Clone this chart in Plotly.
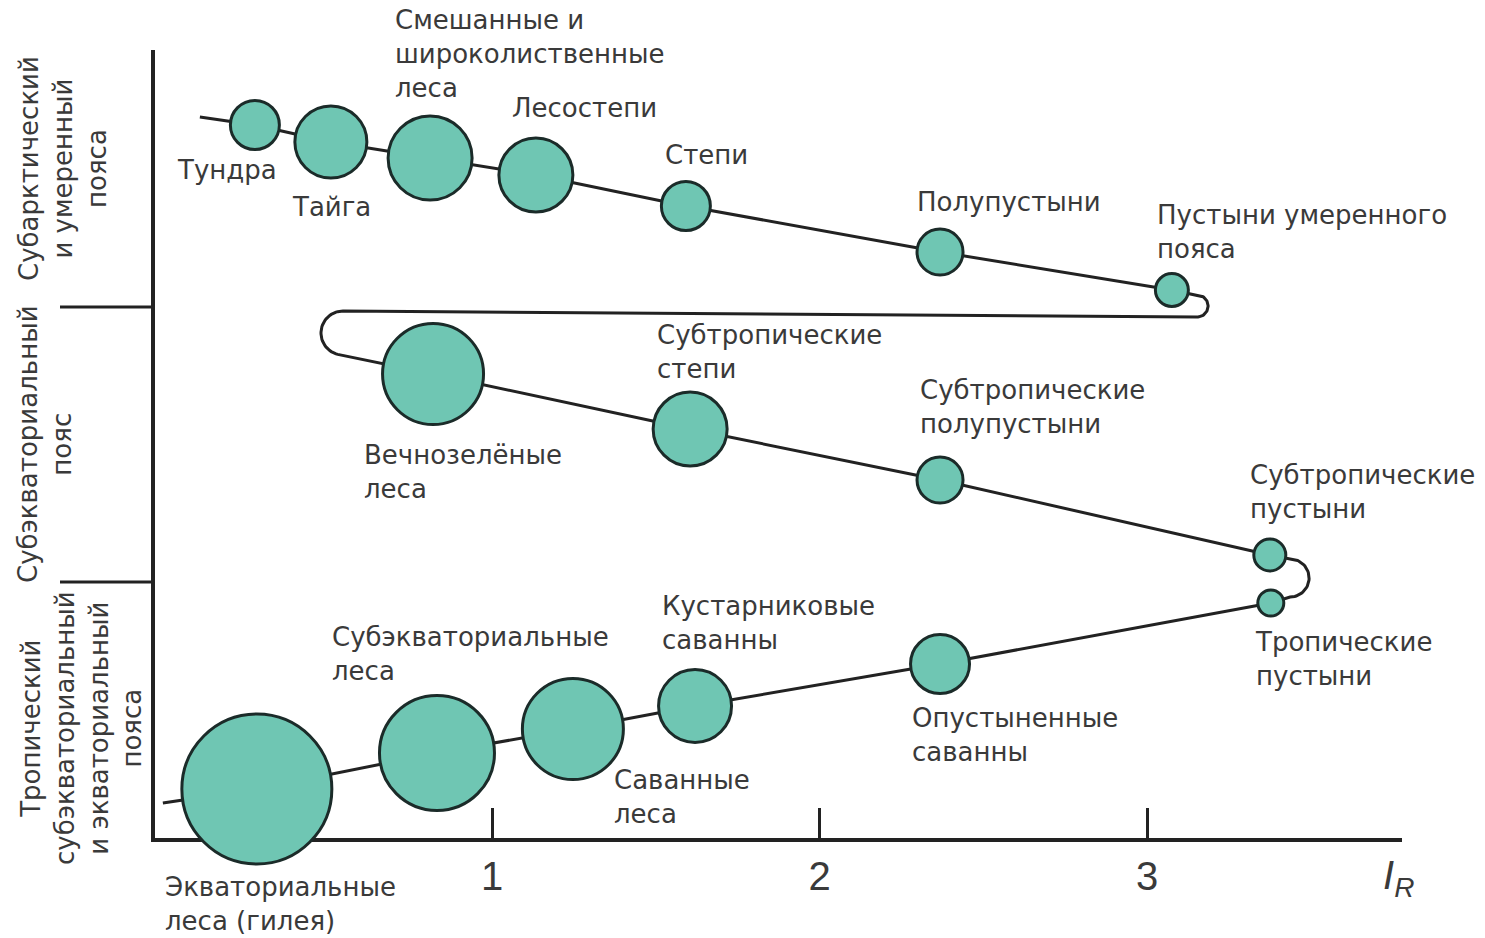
import numpy as np
import plotly.graph_objects as go

# ---------------- data ----------------
biomes = [
    "Тундра", "Тайга", "Смешанные и<br>широколиственные<br>леса", "Лесостепи", "Степи",
    "Полупустыни", "Пустыни умеренного<br>пояса",
    "Вечнозелёные<br>леса", "Субтропические<br>степи", "Субтропические<br>полупустыни",
    "Субтропические<br>пустыни",
    "Тропические<br>пустыни", "Опустыненные<br>саванны", "Кустарниковые<br>саванны",
    "Саванные<br>леса", "Субэкваториальные<br>леса", "Экваториальные<br>леса (гилея)",
]
# radiation index of dryness I_R
ir_values = [0.276, 0.508, 0.811, 1.134, 1.592, 2.368, 3.076,
             0.820, 1.605, 2.368, 3.375,
             3.378, 2.368, 1.620, 1.247, 0.832, 0.282]
# vertical position within belt (arbitrary units)
belt_pos = [7.13, 6.96, 6.80, 6.63, 6.32, 5.86, 5.48,
            4.64, 4.09, 3.58, 2.83,
            2.35, 1.74, 1.32, 1.09, 0.85, 0.49]
# relative productivity (circle diameter)
productivity = [52, 75, 87, 77, 52, 49, 36,
                104, 77, 49, 35,
                29, 62, 76, 104, 118, 153]

# ends of the connecting line
path_start = (0.108, 7.21)
path_end = (-0.005, 0.35)
# turning loops: (centre I_R, centre position, radius px)
loop_top_right = (3.153, 5.32, 11)
loop_left = (0.545, 5.05, 22)
loop_right = (3.437, 2.60, 19)

tick_vals = [1, 2, 3]
belt_labels = ["Субарктический<br>и умеренный<br>пояса",
               "Субэкваториальный<br>пояс",
               "Тропический<br>субэкваториальный<br>и экваториальный<br>пояса"]
belt_bounds = [5.31, 2.56]

# ---------------- layout constants ----------------
OFF = 8                      # page body margin
W, H = 1485 - OFF, 938 - OFF
ML, MT = 155 - OFF, 50 - OFF
MR = 1485 - 1402
MB = 938 - 838
PW, PH = W - ML - MR, H - MT - MB
PX_X = 327.5          # px per I_R unit
X0 = (155 - 164.5) / PX_X
X1 = X0 + PW / PX_X
PX_Y = 100.0
Y0, Y1 = 0, PH / PX_Y

FONT = "DejaVu Sans, Liberation Sans, Arial, sans-serif"
TICKFONT = "Liberation Sans, Arial, sans-serif"
TXT = "#3a3a3a"
LINE = "#222222"
FILL = "#6fc6b3"
EDGE = "#1b2b29"


def arc(c, a0, a1, n=40):
    cx, cy, r = c
    t = np.radians(np.linspace(a0, a1, n))
    return list(cx + r * np.cos(t) / PX_X), list(cy + r * np.sin(t) / PX_Y)


def paper_x(sx):
    return (sx - OFF - ML) / PW


def paper_y(sy):
    return (H - MB - (sy - OFF)) / PH


px, py = [path_start[0]], [path_start[1]]
px += ir_values[0:7]; py += belt_pos[0:7]
ax_, ay_ = arc(loop_top_right, 90, -90); px += ax_; py += ay_
ax_, ay_ = arc(loop_left, 90, 270); px += ax_; py += ay_
px += ir_values[7:11]; py += belt_pos[7:11]
ax_, ay_ = arc(loop_right, 90, -90); px += ax_; py += ay_
px += ir_values[11:17]; py += belt_pos[11:17]
px.append(path_end[0]); py.append(path_end[1])

fig = go.Figure()
fig.add_trace(go.Scatter(x=px, y=py, mode="lines",
                         line=dict(color=LINE, width=3), hoverinfo="skip",
                         showlegend=False, cliponaxis=False))
fig.add_trace(go.Scatter(
    x=ir_values, y=belt_pos, mode="markers",
    marker=dict(size=[d - 3 for d in productivity], color=FILL,
                line=dict(color=EDGE, width=3), opacity=1),
    text=[b.replace("<br>", " ") for b in biomes], hoverinfo="text",
    showlegend=False, cliponaxis=False))

# label offsets (px) relative to circle centre: left edge, top edge
label_off = [(-80, 28), (-41, 48), (-37, -155), (-26, -84), (-23, -68), (-25, -67), (-17, -92),
             (-71, 64), (-35, -111), (-22, -107), (-22, -97),
             (-18, 22), (-30, 37), (-35, -117), (39, 34), (-107, -133), (-94, 81)]
ann = []
for name, xv, yv, (dx, dy) in zip(biomes, ir_values, belt_pos, label_off):
    ann.append(dict(x=xv, y=yv, xref="x", yref="y", text=name, showarrow=False,
                    xanchor="left", yanchor="top", align="left",
                    xshift=dx, yshift=-dy,
                    font=dict(family=FONT, size=26, color=TXT)))

# belt labels
belt_centres = [(63, 169), (45, 444), (81, 728)]
for lab, (cxp, cyp) in zip(belt_labels, belt_centres):
    ann.append(dict(x=paper_x(cxp), y=paper_y(cyp), xref="paper", yref="paper",
                    text=lab, showarrow=False, textangle=-90, align="center",
                    xanchor="center", yanchor="middle",
                    font=dict(family=FONT, size=26, color=TXT)))

ann.append(dict(x=paper_x(1398), y=paper_y(878), xref="paper", yref="paper",
                text="<i>I</i><sub><i>R</i></sub>", showarrow=False,
                xanchor="center", yanchor="middle",
                font=dict(family=TICKFONT, size=40, color=TXT)))

shapes = []
for b in belt_bounds:
    yp = (b - Y0) / (Y1 - Y0)
    shapes.append(dict(type="line", xref="paper", yref="paper",
                       x0=paper_x(60), x1=0, y0=yp, y1=yp,
                       line=dict(color=LINE, width=3)))

fig.update_layout(
    width=W, height=H, margin=dict(l=ML, r=MR, t=MT, b=MB),
    plot_bgcolor="white", paper_bgcolor="white",
    annotations=ann, shapes=shapes,
    xaxis=dict(range=[X0, X1], showgrid=False, zeroline=False, showline=True,
               linecolor=LINE, linewidth=3.5, layer="below traces",
               tickvals=tick_vals, ticktext=[str(t) for t in tick_vals],
               ticks="inside", ticklen=30, tickwidth=3, tickcolor=LINE,
               tickfont=dict(family=TICKFONT, size=40, color=TXT)),
    yaxis=dict(range=[Y0, Y1], showgrid=False, zeroline=False, showline=True,
               linecolor=LINE, linewidth=3.5, layer="below traces",
               showticklabels=False, ticks=""),
)

fig.write_html("out.html")
